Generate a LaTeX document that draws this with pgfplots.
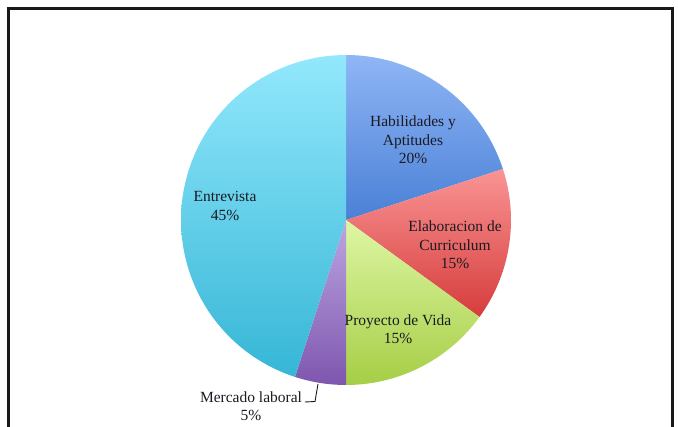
\documentclass[border=0pt]{standalone}
\usepackage{pgfplots}
\pgfplotsset{compat=1.18}
\usepackage{fontspec}
\setmainfont{Liberation Serif}
\definecolor{blueT}{HTML}{8FB6F6}\definecolor{blueB}{HTML}{4A80D6}
\definecolor{redT}{HTML}{FA9494}\definecolor{redB}{HTML}{D63C3C}
\definecolor{greenT}{HTML}{DEF6A4}\definecolor{greenB}{HTML}{A6CE46}
\definecolor{purpT}{HTML}{BCA6E2}\definecolor{purpB}{HTML}{7E56AE}
\definecolor{cyanT}{HTML}{92E8FC}\definecolor{cyanB}{HTML}{36B6D6}
\definecolor{txt}{HTML}{1A1A22}
\tikzset{lbl/.style={font=\fontsize{15.5}{18.5}\selectfont,text=txt,align=center}}
% percentages of the slices (clockwise from top)
\def\pA{20}\def\pB{15}\def\pC{15}\def\pD{5}\def\pE{45}
\pgfmathsetmacro{\aO}{90}
\pgfmathsetmacro{\aA}{\aO-3.6*\pA}
\pgfmathsetmacro{\aB}{\aA-3.6*\pB}
\pgfmathsetmacro{\aC}{\aB-3.6*\pC}
\pgfmathsetmacro{\aD}{\aC-3.6*\pD}
\pgfmathsetmacro{\aE}{\aD-3.6*\pE}
\def\cx{346}\def\cy{220}\def\R{165}
\begin{document}
\begin{tikzpicture}
\begin{axis}[x=1pt,y=1pt,y dir=reverse,xmin=0,xmax=678,ymin=0,ymax=427,
  hide axis,clip=false]
\addplot[draw=none,top color=blueT,bottom color=blueB,domain=\aA:\aO,samples=50,variable=\t]
  ({\cx+\R*cos(\t)},{\cy-\R*sin(\t)}) -- (axis cs:\cx,\cy) -- cycle;
\addplot[draw=none,top color=redT,bottom color=redB,domain=\aB:\aA,samples=40,variable=\t]
  ({\cx+\R*cos(\t)},{\cy-\R*sin(\t)}) -- (axis cs:\cx,\cy) -- cycle;
\addplot[draw=none,top color=greenT,bottom color=greenB,domain=\aC:\aB,samples=40,variable=\t]
  ({\cx+\R*cos(\t)},{\cy-\R*sin(\t)}) -- (axis cs:\cx,\cy) -- cycle;
\addplot[draw=none,top color=purpT,bottom color=purpB,domain=\aD:\aC,samples=15,variable=\t]
  ({\cx+\R*cos(\t)},{\cy-\R*sin(\t)}) -- (axis cs:\cx,\cy) -- cycle;
\addplot[draw=none,top color=cyanT,bottom color=cyanB,domain=\aE:\aD,samples=90,variable=\t]
  ({\cx+\R*cos(\t)},{\cy-\R*sin(\t)}) -- (axis cs:\cx,\cy) -- cycle;
\node[lbl] at (axis cs:413,140) {Habilidades y\\Aptitudes\\\pA\%};
\node[lbl] at (axis cs:455,245) {Elaboracion de\\Curriculum\\\pB\%};
\node[lbl] at (axis cs:398,329) {Proyecto de Vida\\\pC\%};
\node[lbl] at (axis cs:225,206) {Entrevista\\\pE\%};
\node[lbl] at (axis cs:251,406) {Mercado laboral\\\pD\%};
\draw[txt,line width=0.9pt] (axis cs:305,402) -- (axis cs:315,401.5) -- (axis cs:318,384);
\draw[black!90,line width=3pt] (axis cs:8,430) -- (axis cs:8,9) -- (axis cs:672,9) -- (axis cs:672,430);
\end{axis}
\pgfresetboundingbox
\path[use as bounding box] (current axis.south west) rectangle (current axis.north east);
\end{tikzpicture}
\end{document}
